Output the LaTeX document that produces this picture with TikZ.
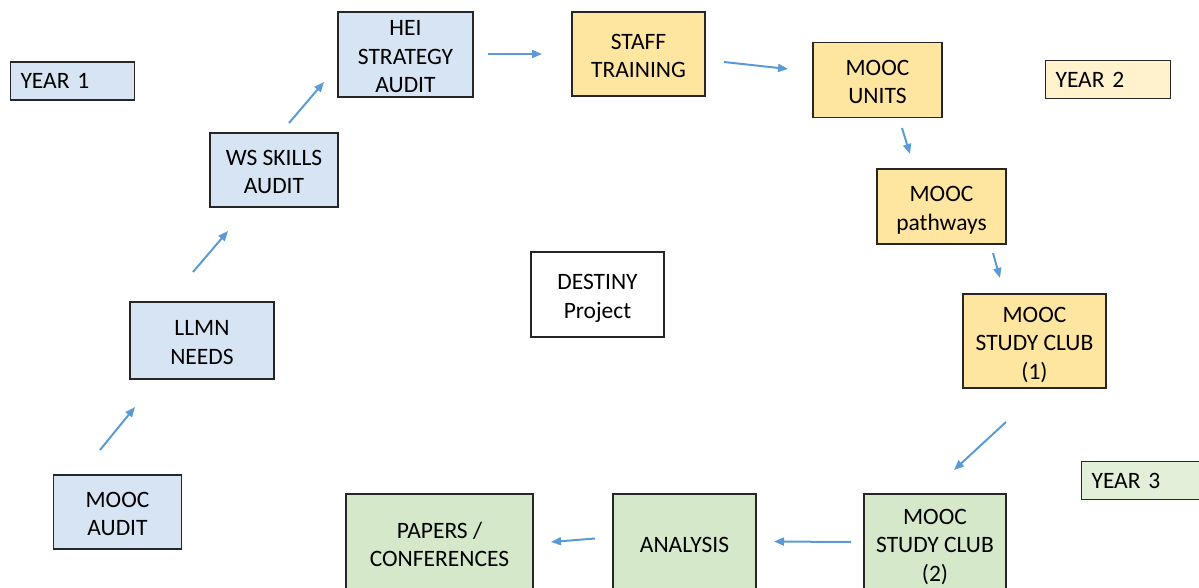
\documentclass[tikz,border=0pt]{standalone}
\usepackage{fontspec}
\setmainfont{Carlito}
\usetikzlibrary{arrows.meta}
\definecolor{bluefill}{HTML}{D6E4F3}
\definecolor{yellowfill}{HTML}{FFE6A0}
\definecolor{yellowlight}{HTML}{FFF2CC}
\definecolor{greenfill}{HTML}{D5E8CA}
\definecolor{greenlight}{HTML}{E2F0D9}
\definecolor{arrowblue}{HTML}{5B9BD5}
\definecolor{edge}{HTML}{262626}
\newcommand\tpstrut{\rule{0pt}{25pt}}
\newcommand\btstrut{\rule[-6pt]{0pt}{6pt}}
\newcommand\tpstrutb{\rule{0pt}{23pt}}
\newcommand\btstrutb{\rule[-4pt]{0pt}{4pt}}
\tikzset{
  box/.style={draw=edge, line width=1.1pt, align=center, inner sep=0pt,
    font=\fontsize{23.5}{28.5}\selectfont},
  yearbox/.style={draw=edge, line width=1.1pt, align=left, anchor=west,
    inner xsep=10pt, inner ysep=0pt, minimum height=38pt,
    font=\fontsize{23.5}{28.5}\selectfont},
  arr/.style={draw=arrowblue, line width=2pt, -{Triangle[length=10pt,width=8pt]}},
}
\begin{document}
\begin{tikzpicture}[x=1pt,y=-1pt]
\useasboundingbox (0,0) rectangle (1199,587);
% year labels
\node[yearbox, fill=bluefill, text width=104pt] (y1) at (10,81) {YEAR 1};
\node[yearbox, fill=yellowlight, text width=105pt] (y2) at (1045,79.5) {YEAR 2};
\node[yearbox, fill=greenlight, text width=120pt] (y3) at (1081,480.5) {YEAR 3};
% year 1 boxes
\node[box, fill=bluefill, minimum width=128pt, minimum height=74pt] (maudit) at (117.5,512) {\tpstrut MOOC\\AUDIT\btstrut};
\node[box, fill=bluefill, minimum width=144pt, minimum height=77pt] (llmn) at (202,340.5) {\tpstrut LLMN\\NEEDS\btstrut};
\node[box, fill=bluefill, minimum width=128pt, minimum height=74pt] (ws) at (274,170) {\tpstrut WS SKILLS\\AUDIT\btstrut};
\node[box, fill=bluefill, minimum width=135pt, minimum height=85pt] (hei) at (405.5,54.5) {\tpstrutb HEI\\STRATEGY\\AUDIT\btstrutb};
% year 2 boxes
\node[box, fill=yellowfill, minimum width=133pt, minimum height=84pt] (staff) at (638.5,54) {\tpstrut STAFF\\TRAINING\btstrut};
\node[box, fill=yellowfill, minimum width=129pt, minimum height=75pt] (units) at (877.5,80) {\tpstrut MOOC\\UNITS\btstrut};
\node[box, fill=yellowfill, minimum width=129pt, minimum height=75pt] (paths) at (941.5,206.5) {\tpstrut MOOC\\pathways\btstrut};
\node[box, fill=yellowfill, minimum width=143pt, minimum height=94pt] (club1) at (1034.5,341) {\tpstrut MOOC\\STUDY CLUB\\(1)\btstrut};
% centre
\node[box, fill=white, minimum width=133pt, minimum height=85pt] (dest) at (597.5,294.5) {\tpstrut DESTINY\\Project\btstrut};
% year 3 boxes
\node[box, fill=greenfill, minimum width=142pt, minimum height=98pt] (club2) at (935,543) {\tpstrut MOOC\\STUDY CLUB\\(2)\btstrut};
\node[box, fill=greenfill, minimum width=143pt, minimum height=98pt] (anal) at (684.5,543) {\tpstrut ANALYSIS\btstrut};
\node[box, fill=greenfill, minimum width=187pt, minimum height=98pt] (papers) at (439.5,543) {\tpstrut PAPERS /\\CONFERENCES\btstrut};
% arrow end points
\coordinate (a1s) at (100,450); \coordinate (a1e) at (135,407);
\coordinate (a2s) at (193,272); \coordinate (a2e) at (228,231);
\coordinate (a3s) at (289,123); \coordinate (a3e) at (324,82);
\coordinate (a4s) at (488,54);  \coordinate (a4e) at (542,54);
\coordinate (a5s) at (724,62);  \coordinate (a5e) at (788,69);
\coordinate (a6s) at (902,128); \coordinate (a6e) at (910,154);
\coordinate (a7s) at (993,253); \coordinate (a7e) at (1000,278);
\coordinate (a8s) at (1006,422); \coordinate (a8e) at (954,470);
\coordinate (a9s) at (851,542); \coordinate (a9e) at (774,541.5);
\coordinate (a10s) at (595,538.5); \coordinate (a10e) at (551,542);
\draw[arr] (a1s) -- (a1e);
\draw[arr] (a2s) -- (a2e);
\draw[arr] (a3s) -- (a3e);
\draw[arr] (a4s) -- (a4e);
\draw[arr] (a5s) -- (a5e);
\draw[arr] (a6s) -- (a6e);
\draw[arr] (a7s) -- (a7e);
\draw[arr] (a8s) -- (a8e);
\draw[arr] (a9s) -- (a9e);
\draw[arr] (a10s) -- (a10e);
\end{tikzpicture}
\end{document}
